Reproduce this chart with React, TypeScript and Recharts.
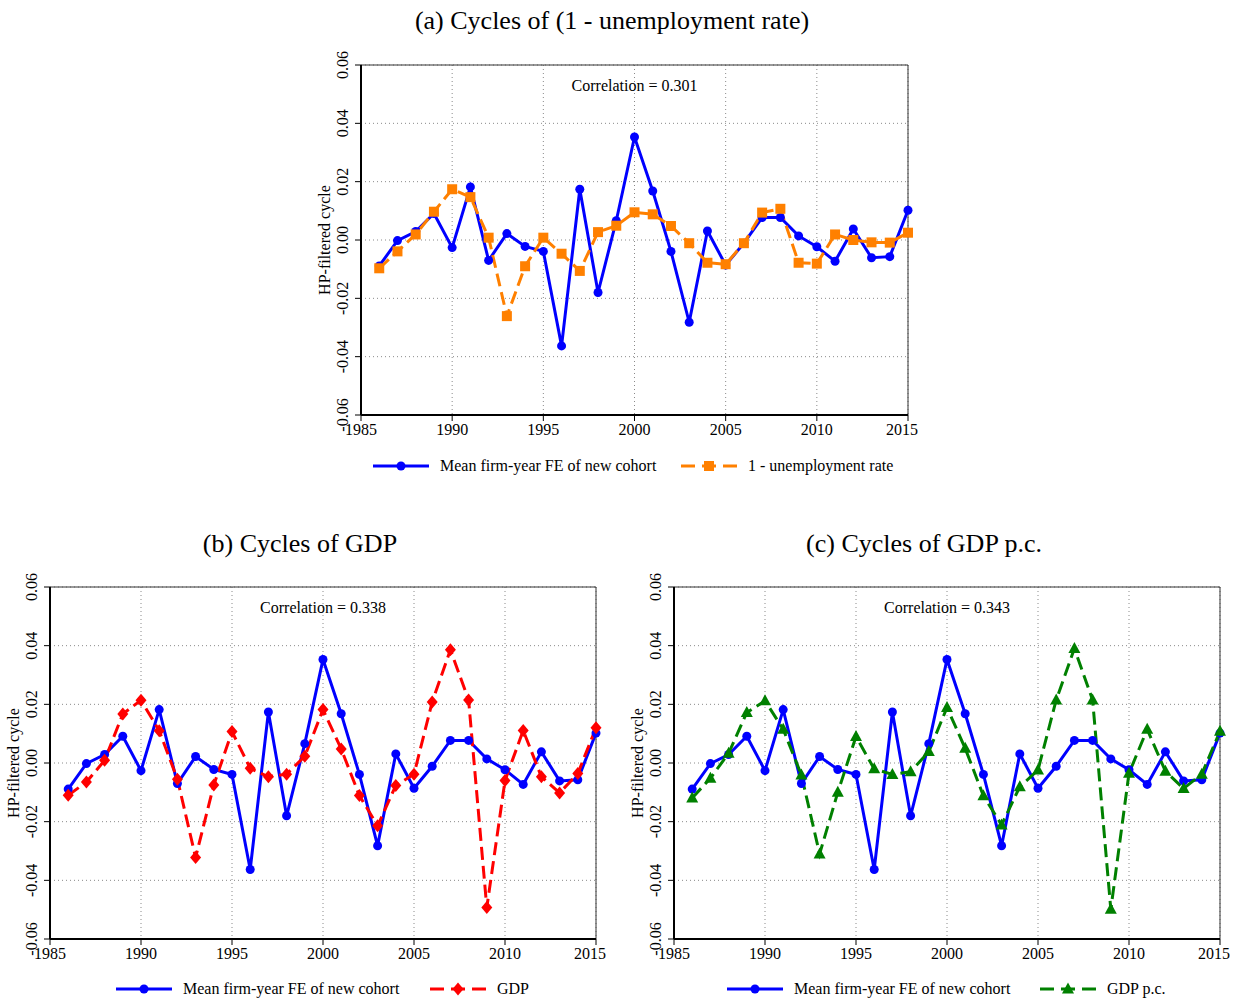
import React from "react";
import {
  LineChart,
  Line,
  XAxis,
  YAxis,
  CartesianGrid,
  ReferenceLine,
} from "recharts";

const years = [
  1986, 1987, 1988, 1989, 1990, 1991, 1992, 1993, 1994, 1995, 1996, 1997, 1998, 1999, 2000,
  2001, 2002, 2003, 2004, 2005, 2006, 2007, 2008, 2009, 2010, 2011, 2012, 2013, 2014, 2015,
];

// mean firm-year FE of new cohort
const cohortFE = [
  -0.0089, -0.0002, 0.0029, 0.0091, -0.0026, 0.0182, -0.007, 0.0022, -0.0022, -0.0039,
  -0.0363, 0.0174, -0.018, 0.0066, 0.0353, 0.0168, -0.0039, -0.0282, 0.0031, -0.0086,
  -0.0011, 0.0077, 0.0077, 0.0014, -0.0023, -0.0073, 0.0038, -0.0061, -0.0057, 0.0102,
];

// 1 - unemployment rate
const employment = [
  -0.0097, -0.0039, 0.0019, 0.0097, 0.0174, 0.0147, 0.0008, -0.0261, -0.009, 0.0008,
  -0.0047, -0.0106, 0.0027, 0.0049, 0.0095, 0.0088, 0.0048, -0.0011, -0.0078, -0.0083,
  -0.0011, 0.0094, 0.0107, -0.0078, -0.0081, 0.0019, 0.0, -0.0008, -0.0009, 0.0025,
];

const gdp = [
  -0.011, -0.0065, 0.0009, 0.0167, 0.0214, 0.011, -0.0055, -0.0322, -0.0075, 0.0107,
  -0.0018, -0.0047, -0.0038, 0.0023, 0.0182, 0.0048, -0.0111, -0.0214, -0.0077, -0.0038,
  0.0208, 0.0386, 0.0215, -0.0493, -0.006, 0.0111, -0.0047, -0.0102, -0.0036, 0.012,
];

const gdpPc = [
  -0.0119, -0.0052, 0.0033, 0.0172, 0.0212, 0.0115, -0.0041, -0.031, -0.01, 0.009,
  -0.002, -0.0039, -0.003, 0.0039, 0.0189, 0.005, -0.0112, -0.0211, -0.0081, -0.0024,
  0.0215, 0.039, 0.0215, -0.0499, -0.0035, 0.0115, -0.0028, -0.0087, -0.0038, 0.0108,
];

const xTicks = [1985, 1990, 1995, 2000, 2005, 2010, 2015];
const yTicks = [-0.06, -0.04, -0.02, 0, 0.02, 0.04, 0.06];

const FONT = "'Liberation Serif', 'Times New Roman', serif";
const BLUE = "#0000ff";

const buildData = (other: number[]) =>
  years.map((year, i) => ({ year, fe: cohortFE[i], other: other[i] }));

function Marker({ shape, cx, cy, color }: any) {
  if (cx == null || cy == null) return null;
  if (shape === "circle") return <circle cx={cx} cy={cy} r={4.5} fill={color} />;
  if (shape === "square")
    return <rect x={cx - 5} y={cy - 5} width={10} height={10} fill={color} />;
  if (shape === "diamond")
    return (
      <polygon
        points={`${cx},${cy - 6.5} ${cx + 5.5},${cy} ${cx},${cy + 6.5} ${cx - 5.5},${cy}`}
        fill={color}
      />
    );
  return (
    <polygon
      points={`${cx},${cy - 6.5} ${cx + 6},${cy + 4.5} ${cx - 6},${cy + 4.5}`}
      fill={color}
    />
  );
}

const dotFn = (shape: string, color: string) => (p: any) =>
  <Marker key={`${shape}-${p.index}`} shape={shape} cx={p.cx} cy={p.cy} color={color} />;

function YTick({ x, y, payload }: any) {
  return (
    <g transform={`translate(${x - 5},${y}) rotate(-90)`}>
      <text textAnchor="middle" fontSize={16} fontFamily={FONT} fill="#000">
        {Number(payload.value).toFixed(2)}
      </text>
    </g>
  );
}

function Panel({ L, R, T, B, other, color, shape, corr }: any) {
  const mLeft = 60;
  const mTop = 30;
  const xh = 30;
  const w = R - L + mLeft + 10;
  const h = B - T + mTop + xh;
  return (
    <>
      <div style={{ position: "absolute", left: L - mLeft, top: T - mTop }}>
        <LineChart
          width={w}
          height={h}
          data={buildData(other)}
          margin={{ top: mTop, right: 10, left: 0, bottom: 0 }}
          style={{ fontFamily: FONT }}
        >
          <CartesianGrid stroke="#8a8a8a" strokeDasharray="1 3" />
          <XAxis
            dataKey="year"
            type="number"
            domain={[1985, 2015]}
            ticks={xTicks}
            height={xh}
            tickMargin={3}
            tick={{ fill: "#000", fontSize: 16, fontFamily: FONT }}
            tickLine={{ stroke: "#000" }}
            axisLine={{ stroke: "#000", strokeWidth: 2 }}
          />
          <YAxis
            type="number"
            domain={[-0.06, 0.06]}
            ticks={yTicks}
            width={mLeft}
            tick={<YTick />}
            tickLine={{ stroke: "#000" }}
            axisLine={{ stroke: "#000", strokeWidth: 2 }}
          />
          <ReferenceLine y={0.06} stroke="#333" strokeWidth={1} />
          <ReferenceLine x={2015} stroke="#333" strokeWidth={1} />
          <Line
            dataKey="fe"
            stroke={BLUE}
            strokeWidth={3}
            dot={dotFn("circle", BLUE)}
            activeDot={false}
            isAnimationActive={false}
          />
          <Line
            dataKey="other"
            stroke={color}
            strokeWidth={3}
            strokeDasharray="13 6"
            dot={dotFn(shape, color)}
            activeDot={false}
            isAnimationActive={false}
          />
        </LineChart>
      </div>
      <div
        style={{
          position: "absolute",
          left: (L + R) / 2 - 150,
          width: 300,
          top: T + 12,
          textAlign: "center",
          fontFamily: FONT,
          fontSize: 16,
          lineHeight: "18px",
        }}
      >
        Correlation = {corr}
      </div>
      <div
        style={{
          position: "absolute",
          left: L - 36 - 100,
          top: (T + B) / 2 - 10,
          width: 200,
          height: 20,
          lineHeight: "20px",
          textAlign: "center",
          transform: "rotate(-90deg)",
          fontFamily: FONT,
          fontSize: 16,
        }}
      >
        HP-filtered cycle
      </div>
    </>
  );
}

function LegendItem({ x, y, color, shape, dashed, label }: any) {
  return (
    <g>
      <line
        x1={x}
        x2={x + 56}
        y1={y}
        y2={y}
        stroke={color}
        strokeWidth={3}
        strokeDasharray={dashed ? "14 7" : undefined}
      />
      <Marker shape={shape} cx={x + 28} cy={y} color={color} />
      <text x={x + 67} y={y + 5} fontSize={16} fontFamily={FONT} fill="#000">
        {label}
      </text>
    </g>
  );
}

function Legend({ y, x1, x2, color, shape, label }: any) {
  return (
    <svg
      width={1246}
      height={24}
      style={{ position: "absolute", left: 0, top: y - 12, overflow: "visible" }}
    >
      <LegendItem x={x1} y={12} color={BLUE} shape="circle" label="Mean firm-year FE of new cohort" />
      <LegendItem x={x2} y={12} color={color} shape={shape} dashed label={label} />
    </svg>
  );
}

const titleStyle = (cx: number, top: number): React.CSSProperties => ({
  position: "absolute",
  left: cx - 300,
  width: 600,
  top,
  textAlign: "center",
  fontFamily: FONT,
  fontSize: 26,
  lineHeight: "28px",
});

export default function App() {
  return (
    <div
      style={{
        position: "absolute",
        left: 0,
        top: 0,
        width: 1246,
        height: 1003,
        background: "#fff",
        overflow: "hidden",
      }}
    >
      <div style={titleStyle(612, 7)}>(a) Cycles of (1 - unemployment rate)</div>
      <Panel L={361} R={908} T={65} B={415} other={employment} color="#ff8000" shape="square" corr="0.301" />
      <Legend y={466} x1={373} x2={681} color="#ff8000" shape="square" label="1 - unemployment rate" />

      <div style={titleStyle(300, 530)}>(b) Cycles of GDP</div>
      <Panel L={50} R={596} T={587} B={939} other={gdp} color="#ff0000" shape="diamond" corr="0.338" />
      <Legend y={989} x1={116} x2={430} color="#ff0000" shape="diamond" label="GDP" />

      <div style={titleStyle(924, 530)}>(c) Cycles of GDP p.c.</div>
      <Panel L={674} R={1220} T={587} B={939} other={gdpPc} color="#008000" shape="triangle" corr="0.343" />
      <Legend y={989} x1={727} x2={1040} color="#008000" shape="triangle" label="GDP p.c." />
    </div>
  );
}
